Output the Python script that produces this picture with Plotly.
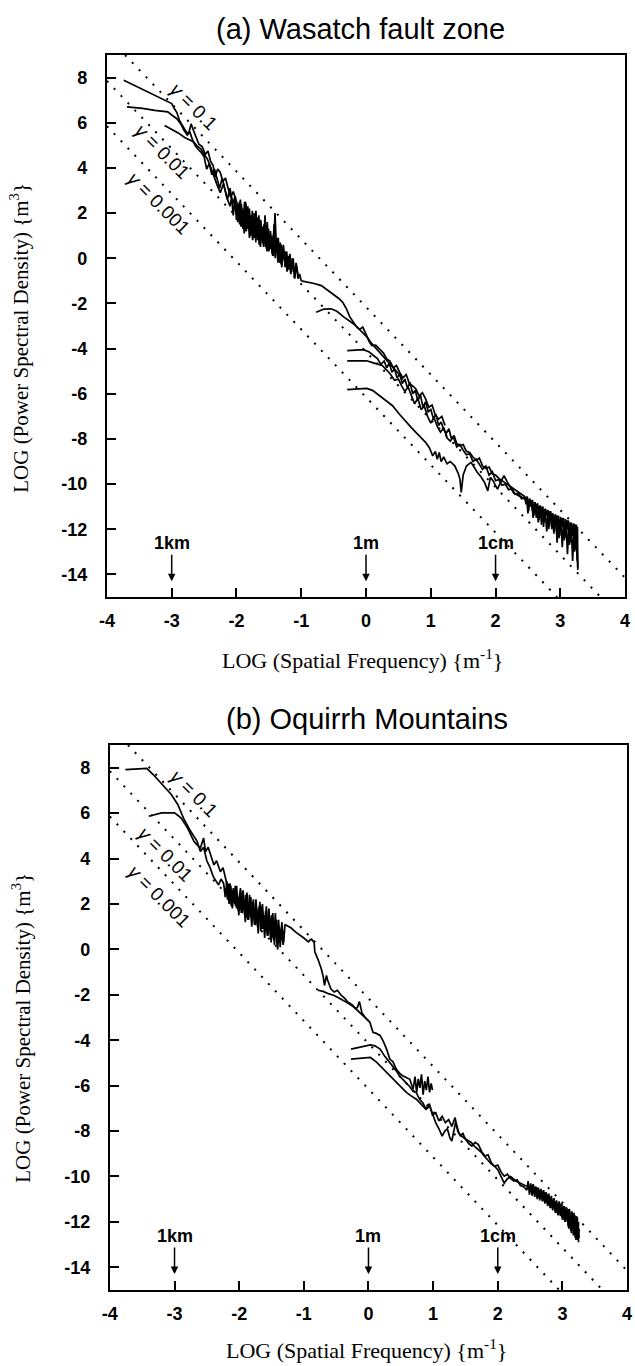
import plotly.graph_objects as go

# ---------------- data ----------------
X_RANGE = [-4, 4]
Y_RANGE = [-15, 9]
X_TICKS = [-4, -3, -2, -1, 0, 1, 2, 3, 4]
X_TICKTEXT = ["-4", "-3", "-2", "-1", "0", "1", "2", "3", "4"]
Y_TICKS = [8, 6, 4, 2, 0, -2, -4, -6, -8, -10, -12, -14]
Y_TICKTEXT = ["8", "6", "4", "2", "0", "-2", "-4", "-6", "-8", "-10", "-12", "-14"]

# reference lines  gamma = 0.1 / 0.01 / 0.001 (endpoints)
g1_x = [-3.72, 4.0];  g1_y = [9.0, -14.15]
g2_x = [-4.0, 3.62];  g2_y = [7.85, -15.0]
g3_x = [-4.0, 2.95];  g3_y = [5.85, -15.0]
gamma_labels = ["<i>γ</i> = 0.1", "<i>γ</i> = 0.01", "<i>γ</i> = 0.001"]
a_label_x = [-2.66, -3.15, -3.20]; a_label_y = [6.72, 4.72, 2.41]
b_label_x = [-2.70, -3.14, -3.23]; b_label_y = [6.85, 4.17, 2.34]

scale_names = ["1km", "1m", "1cm"]
scale_x = [-3, 0, 2]

# ---- panel (a) Wasatch fault zone ----
a1_x = [-3.74, -3.55, -3.35, -3.15, -3.06, -3.0, -2.96, -2.92, -2.88, -2.84, -2.78, -2.74, -2.70, -2.67, -2.62,
        -2.58, -2.53, -2.48, -2.44, -2.40, -2.36, -2.33, -2.29, -2.25, -2.21, -2.17, -2.13, -2.09, -2.05, -2.01,
        -1.975, -1.95, -1.925, -1.90, -1.875, -1.85, -1.825, -1.80, -1.775, -1.75, -1.725, -1.70, -1.675, -1.65,
        -1.625, -1.60, -1.575, -1.55, -1.525, -1.50, -1.475, -1.45, -1.425, -1.40, -1.375, -1.35, -1.325, -1.30,
        -1.275, -1.25, -1.225, -1.20, -1.175, -1.15, -1.125, -1.10, -1.075, -1.05, -1.025, -1.00]
a1_y = [7.88, 7.62, 7.32, 7.04, 6.92, 6.85, 6.63, 6.45, 6.10, 5.90, 5.62, 5.50, 5.95, 5.70, 5.30,
        5.05, 4.95, 4.60, 4.75, 4.30, 4.10, 3.60, 3.95, 3.80, 3.40, 3.55, 3.10, 2.70, 2.95, 2.55,
        2.3, 1.6, 2.4, 1.5, 2.2, 1.2, 2.3, 1.3, 1.9, 0.9, 2.0, 1.0, 1.8, 0.6,
        1.7, 0.7, 1.5, 0.5, 1.6, 0.4, 1.2, 0.2, 1.1, 0.0, 0.9, -0.1, 0.7, -0.3,
        0.6, -0.4, 0.3, -0.5, 0.2, -0.6, 0.0, -0.8, -0.3, -0.9, -0.7, -1.0]
a2_x = [-3.69, -3.45, -3.26, -3.06, -2.98, -2.92, -2.86, -2.81, -2.76, -2.72, -2.68, -2.64, -2.60, -2.55, -2.50,
        -2.46, -2.42, -2.38, -2.34, -2.30, -2.26, -2.22, -2.18, -2.14, -2.10, -2.06, -2.02,
        -1.98, -1.955, -1.93, -1.905, -1.88, -1.855, -1.83, -1.805, -1.78, -1.755, -1.73, -1.705, -1.68, -1.655,
        -1.63, -1.605, -1.58, -1.555, -1.53, -1.505, -1.48, -1.455, -1.43, -1.405, -1.38, -1.355, -1.33, -1.305]
a2_y = [6.70, 6.64, 6.55, 6.48, 6.30, 6.18, 5.95, 5.66, 5.45, 5.60, 5.25, 5.00, 4.85, 4.70, 4.50,
        3.95, 4.20, 3.70, 3.95, 3.50, 3.10, 3.55, 3.00, 2.60, 3.10, 2.40, 2.75,
        1.6, 2.5, 1.4, 2.2, 1.1, 2.4, 1.3, 1.9, 1.0, 2.1, 0.9, 1.7, 0.8, 1.9,
        0.5, 1.4, 0.6, 1.5, 0.3, 1.3, 0.4, 1.0, 0.1, 2.0, 0.2, 0.9, -0.2, 0.6]
a3_x = [-3.11, -3.0, -2.9, -2.8, -2.72, -2.66, -2.6, -2.55, -2.5, -2.45, -2.4, -2.35, -2.3, -2.25, -2.2, -2.15,
        -2.1, -2.075, -2.05, -2.025, -2.0, -1.975, -1.95, -1.925, -1.9, -1.875, -1.85, -1.825, -1.8, -1.775,
        -1.75, -1.725, -1.7]
a3_y = [5.88, 5.72, 5.55, 5.35, 5.25, 5.15, 4.95, 4.85, 4.60, 4.40, 4.05, 3.60, 3.25, 2.90, 3.30, 2.70,
        2.30, 2.7, 1.9, 2.6, 1.7, 2.4, 1.5, 2.0, 1.3, 2.5, 1.2, 2.1, 0.9, 1.8,
        0.8, 1.6, 0.7]
a4_x = [-0.77, -0.65, -0.54, -0.45, -0.34, -0.25, -0.19, -0.12, -0.05, 0.02, 0.08, 0.14, 0.2,
        0.26, 0.32, 0.38, 0.44, 0.5, 0.56]
a4_y = [-2.39, -2.25, -2.24, -2.35, -2.61, -2.80, -2.91, -3.10, -3.30, -3.50, -3.75, -3.95, -4.1,
        -4.30, -4.50, -4.70, -4.95, -5.10, -5.40]
a5_x = [-1.0, -0.9, -0.8, -0.69, -0.6, -0.5, -0.42, -0.36, -0.3, -0.25, -0.2, -0.16, -0.1, -0.05, 0.01,
        0.05, 0.09, 0.15, 0.21, 0.27, 0.32, 0.37, 0.42, 0.47, 0.52, 0.57, 0.62, 0.67, 0.72, 0.77, 0.82,
        0.87, 0.92, 0.97, 1.02, 1.07, 1.12, 1.17, 1.22]
a5_y = [-1.0, -1.05, -1.12, -1.21, -1.40, -1.60, -1.78, -1.95, -2.25, -2.60, -2.80, -2.98, -3.15, -3.05, -3.43,
        -3.70, -3.87, -3.85, -4.02, -4.20, -4.46, -4.55, -4.85, -4.75, -5.05, -5.30, -5.15, -5.55, -5.65, -5.79,
        -6.10, -5.95, -6.23, -6.60, -6.50, -6.95, -7.12, -7.00, -7.40]
a6_x = [-0.29, -0.15, -0.04, 0.05, 0.12, 0.18, 0.23, 0.28, 0.32, 0.36, 0.40, 0.44, 0.48, 0.52, 0.56, 0.60,
        0.64, 0.68, 0.72, 0.76, 0.80, 0.84, 0.88, 0.92, 0.96, 1.00, 1.04, 1.08, 1.12, 1.16, 1.20, 1.24, 1.28,
        1.32, 1.36, 1.40, 1.45, 1.50, 1.55, 1.60, 1.65, 1.70, 1.75, 1.80, 1.85, 1.90, 1.95, 2.00, 2.05, 2.10,
        2.15, 2.20, 2.25, 2.30, 2.35, 2.40, 2.45,
        2.47, 2.49, 2.51, 2.53, 2.55, 2.57, 2.59, 2.61, 2.63, 2.65, 2.67, 2.69, 2.71, 2.73, 2.75, 2.77, 2.79,
        2.81, 2.83, 2.85, 2.87, 2.89, 2.91, 2.93, 2.95, 2.97, 2.99, 3.01, 3.03, 3.05, 3.07, 3.09, 3.11, 3.13,
        3.15, 3.17, 3.19, 3.21, 3.23, 3.25, 3.26, 3.265, 3.27, 3.265, 3.27]
a6_y = [-4.09, -4.07, -4.05, -4.15, -4.30, -4.45, -4.70, -4.55, -4.85, -4.65, -5.05, -4.90, -5.30, -5.10, -5.55,
        -5.35, -5.75, -5.50, -6.00, -5.85, -6.30, -6.05, -6.60, -6.35, -6.80, -6.70, -7.10, -6.90, -7.40, -7.25,
        -7.60, -7.75, -7.55, -8.00, -7.85, -8.20, -8.30, -8.25, -8.55, -8.60, -8.80, -8.95, -8.85, -9.20, -9.30,
        -9.25, -9.55, -9.60, -9.75, -9.85, -9.95, -10.05, -10.15, -10.25, -10.35, -10.45, -10.55,
        -10.9, -10.55, -11.2, -10.65, -10.9, -10.7, -11.4, -10.8, -11.1, -10.85, -11.6, -10.95, -11.3, -11.0,
        -11.7, -11.1, -11.4, -11.15, -11.9, -11.2, -11.6, -11.3, -12.1, -11.35, -11.8, -11.4, -12.3, -11.5,
        -11.9, -11.5, -12.4, -11.6, -12.0, -11.65, -12.6, -11.7, -12.3, -11.75, -12.8, -11.8, -13.2, -11.9,
        -13.7, -12.2, -13.3]
a7_x = [-0.29, -0.1, 0.01, 0.1, 0.18, 0.25, 0.32, 0.38, 0.44, 0.50, 0.55, 0.60, 0.65, 0.70, 0.75, 0.80, 0.85,
        0.90, 0.95, 1.00, 1.05, 1.10, 1.15, 1.20, 1.25, 1.30, 1.35, 1.40, 1.45, 1.50, 1.55, 1.60, 1.65, 1.70,
        1.75, 1.80, 1.85, 1.90, 1.95, 2.00, 2.05, 2.10, 2.15, 2.20, 2.25, 2.30, 2.35, 2.40, 2.45,
        2.48, 2.50, 2.52, 2.54, 2.56, 2.58, 2.60, 2.62, 2.64, 2.66, 2.68, 2.70, 2.72, 2.74, 2.76, 2.78, 2.80,
        2.82, 2.84, 2.86, 2.88, 2.90, 2.92, 2.94, 2.96, 2.98, 3.00, 3.02, 3.04, 3.06, 3.08, 3.10, 3.12, 3.14,
        3.16, 3.18, 3.20, 3.22, 3.24, 3.26]
a7_y = [-4.54, -4.52, -4.54, -4.62, -4.70, -4.75, -4.95, -5.15, -5.40, -5.35, -5.65, -5.90, -5.70, -6.09,
        -6.45, -6.20, -6.70, -6.55, -7.00, -7.30, -7.05, -7.45, -7.70, -7.50, -7.95, -8.10, -7.90, -8.35, -8.25,
        -8.50, -8.70, -8.65, -9.00, -8.90, -9.15, -9.35, -9.20, -9.60, -9.45, -9.85, -9.80, -10.05, -10.00,
        -10.25, -10.20, -10.45, -10.40, -10.65, -10.60,
        -10.6, -11.3, -10.65, -11.0, -10.75, -11.5, -10.8, -11.1, -10.9, -11.7, -10.95, -11.3, -11.0, -11.9,
        -11.1, -11.4, -11.15, -12.0, -11.2, -11.5, -11.3, -12.2, -11.35, -11.7, -11.4, -12.4, -11.45, -11.8,
        -11.5, -12.5, -11.55, -12.0, -11.6, -12.7, -11.7, -12.3, -11.75, -13.0, -11.8, -13.4]
a8_x = [-0.29, -0.1, 0.01, 0.1, 0.21, 0.3, 0.41, 0.5, 0.62, 0.7, 0.77, 0.85, 0.92, 0.98, 1.03, 1.07, 1.10,
        1.13, 1.16, 1.20, 1.25, 1.30, 1.37, 1.42, 1.45, 1.47, 1.50, 1.55, 1.62, 1.68, 1.72, 1.78, 1.83, 1.88,
        1.92, 1.96, 2.03, 2.08, 2.13, 2.18, 2.22, 2.28, 2.35, 2.42, 2.5, 2.56, 2.62, 2.68, 2.74, 2.8, 2.86,
        2.92, 2.98, 3.04, 3.1, 3.16, 3.22, 3.26]
a8_y = [-5.82, -5.78, -5.76, -5.85, -6.09, -6.30, -6.53, -6.85, -7.27, -7.50, -7.71, -7.95, -8.15, -8.40,
        -8.75, -8.55, -8.90, -8.60, -9.00, -8.80, -9.10, -9.00, -9.19, -9.50, -9.78, -10.37, -9.60, -9.20,
        -9.04, -9.30, -9.49, -9.70, -9.93, -10.30, -9.70, -9.85, -10.22, -9.90, -9.63, -9.90, -10.10, -10.40,
        -10.50, -10.60, -10.8, -10.95, -11.0, -11.15, -11.2, -11.35, -11.4, -11.55, -11.6, -11.7, -11.75,
        -11.9, -12.0, -12.6]
a9_x = [-1.96, -1.94, -1.92, -1.90, -1.88, -1.86, -1.84, -1.82, -1.80, -1.78, -1.76, -1.74, -1.72, -1.70,
        -1.68, -1.66, -1.64, -1.62, -1.60, -1.58, -1.56, -1.54, -1.52, -1.50, -1.48, -1.46, -1.44, -1.42,
        -1.40, -1.38, -1.36, -1.34, -1.32, -1.30, -1.28, -1.26, -1.24, -1.22, -1.20, -1.18, -1.16, -1.14,
        -1.12, -1.10, -1.08, -1.06, -1.04]
a9_y = [1.9, 2.6, 1.8, 2.1, 1.4, 2.5, 1.7, 1.3, 2.2, 1.1, 1.8, 1.5, 0.9, 2.1, 1.2, 1.6, 0.8, 1.4, 1.0, 0.5,
        1.9, 0.7, 1.2, 0.3, 1.0, 0.6, 0.1, 1.5, 0.4, 0.8, -0.2, 0.6, 0.2, -0.4, 0.5, -0.1, 0.3, -0.6, 0.1,
        -0.3, -0.7, 0.0, -0.5, -0.9, -0.2, -0.6, -0.9]
a10_x = [2.55, 2.57, 2.59, 2.61, 2.63, 2.65, 2.67, 2.69, 2.71, 2.73, 2.75, 2.77, 2.79, 2.81, 2.83, 2.85, 2.87,
         2.89, 2.91, 2.93, 2.95, 2.97, 2.99, 3.01, 3.03, 3.05, 3.07, 3.09, 3.11, 3.13, 3.15, 3.17, 3.19, 3.21,
         3.23, 3.25, 3.27]
a10_y = [-10.8, -11.2, -10.9, -11.0, -11.5, -11.0, -11.3, -11.1, -11.8, -11.2, -11.5, -11.3, -12.1, -11.3,
         -11.6, -11.4, -12.0, -11.5, -11.9, -11.5, -12.6, -11.6, -12.0, -11.7, -12.8, -11.8, -12.2, -11.8,
         -13.1, -11.9, -12.5, -12.0, -13.4, -12.1, -12.9, -12.4, -13.8]

# ---- panel (b) Oquirrh Mountains ----
b1_x = [-3.76, -3.43, -3.33, -3.15, -3.05, -2.95, -2.90, -2.85, -2.75, -2.70, -2.65, -2.60, -2.55, -2.50,
        -2.45, -2.40, -2.35, -2.32, -2.28, -2.24,
        -2.215, -2.19, -2.165, -2.14, -2.115, -2.09, -2.065, -2.04, -2.015, -1.99, -1.965, -1.94, -1.915,
        -1.89, -1.865, -1.84, -1.815, -1.79, -1.765, -1.74, -1.715, -1.69, -1.665, -1.64, -1.615, -1.59,
        -1.565, -1.54, -1.515, -1.49, -1.465, -1.44, -1.415, -1.39, -1.365, -1.34, -1.315, -1.29, -1.28]
b1_y = [7.92, 7.97, 7.70, 7.12, 6.82, 6.38, 6.08, 5.71, 5.20, 5.00, 4.76, 4.31, 4.50, 3.90,
        3.60, 3.20, 3.00, 2.84, 3.10, 2.90,
        2.3, 3.0, 2.2, 2.9, 1.9, 2.7, 2.0, 2.8, 1.7, 2.5, 1.6, 2.6, 1.5,
        2.3, 1.3, 2.4, 1.4, 2.1, 1.1, 2.2, 1.0, 1.9, 0.8, 2.0, 0.9, 1.7,
        0.6, 1.8, 0.5, 1.5, 0.4, 1.6, 0.2, 1.3, 0.1, 1.2, 0.3, 1.1, 1.07]
b2_x = [-3.40, -3.2, -3.0, -2.9, -2.8, -2.7, -2.65, -2.6, -2.55, -2.52, -2.48, -2.44, -2.39, -2.35, -2.29,
        -2.25, -2.2, -2.18, -2.155, -2.13, -2.105, -2.08, -2.055, -2.03, -2.005, -1.98, -1.955, -1.93, -1.905,
        -1.88, -1.855, -1.83, -1.805, -1.78, -1.755, -1.73, -1.705, -1.68, -1.655, -1.63, -1.605, -1.58,
        -1.555, -1.53, -1.505, -1.48, -1.455, -1.43, -1.405, -1.38, -1.355, -1.33]
b2_y = [5.86, 6.01, 6.01, 5.79, 5.35, 4.76, 4.60, 4.46, 4.90, 4.30, 4.50, 4.16, 3.72, 3.90, 3.42,
        3.60, 3.00, 2.5, 2.0, 2.8, 1.8, 2.6, 1.9, 2.4, 1.5, 2.7, 1.6, 2.2, 1.2,
        2.5, 1.3, 2.0, 1.0, 2.2, 1.1, 1.8, 0.7, 2.1, 0.9, 1.6, 0.5, 1.9,
        0.6, 1.4, 0.3, 1.6, 0.2, 1.2, 0.0, 1.0, 0.4, 0.6]
b3_x = [-1.28, -1.2, -1.13, -1.05, -1.0, -0.95, -0.93, -0.9, -0.88, -0.84, -0.83, -0.78, -0.73, -0.70,
        -0.68, -0.65, -0.63, -0.58, -0.53, -0.48, -0.42, -0.37, -0.32, -0.25, -0.2, -0.17, -0.14, -0.1,
        -0.05, 0.02, 0.07, 0.12, 0.18, 0.23, 0.28, 0.33, 0.38, 0.43, 0.48, 0.53, 0.58, 0.64, 0.69,
        0.72, 0.745, 0.77, 0.795, 0.82, 0.845, 0.87, 0.895, 0.92, 0.945, 0.97, 0.99]
b3_y = [1.07, 0.95, 0.77, 0.62, 0.50, 0.38, 0.33, 0.42, 0.45, 0.30, -0.11, -0.45, -0.85, -1.20,
        -1.59, -1.15, -1.37, -1.75, -1.88, -1.80, -2.03, -2.15, -2.32, -2.45, -2.62, -2.55, -2.30, -2.80,
        -3.0, -3.2, -3.65, -3.70, -3.79, -4.05, -4.39, -4.83, -4.95, -5.27, -5.45, -5.57, -5.65, -5.72, -6.16,
        -5.6, -6.3, -5.7, -6.1, -5.5, -6.4, -5.8, -6.2, -5.6, -6.3, -5.9, -6.2]
b4_x = [-0.78, -0.70, -0.62, -0.53, -0.45, -0.38, -0.3, -0.22, -0.15, -0.08, 0.0]
b4_y = [-1.80, -1.85, -1.95, -2.03, -2.15, -2.25, -2.40, -2.55, -2.75, -2.95, -3.15]
b5_x = [-0.27, -0.1, 0.03, 0.10, 0.18, 0.25, 0.32, 0.38, 0.43, 0.48, 0.53, 0.59, 0.64, 0.69, 0.74, 0.79,
        0.84, 0.89, 0.94, 0.99, 1.04, 1.09, 1.14, 1.19, 1.24, 1.29, 1.34, 1.38, 1.42, 1.46, 1.50, 1.55, 1.60,
        1.65, 1.70, 1.75, 1.80, 1.85, 1.90, 1.95, 2.00, 2.05, 2.10, 2.15, 2.20, 2.25, 2.30, 2.35, 2.40, 2.45,
        2.47, 2.49, 2.51, 2.53, 2.55, 2.57, 2.59, 2.61, 2.63, 2.65, 2.67, 2.69, 2.71, 2.73, 2.75, 2.77, 2.79,
        2.81, 2.83, 2.85, 2.87, 2.89, 2.91, 2.93, 2.95, 2.97, 2.99, 3.01, 3.03, 3.05, 3.07, 3.09, 3.11, 3.13,
        3.15, 3.17, 3.19, 3.21, 3.23, 3.25, 3.24, 3.26, 3.25]
b5_y = [-4.39, -4.30, -4.21, -4.25, -4.39, -4.70, -4.95, -5.13, -5.35, -5.57, -5.70, -5.90, -6.05, -6.25,
        -6.31, -6.60, -6.75, -7.04, -6.80, -7.30, -7.20, -7.55, -7.35, -7.63, -7.50, -7.80, -7.41, -8.00,
        -8.20, -8.10, -8.35, -8.55, -8.66, -8.50, -8.60, -8.90, -9.10, -9.05, -9.40, -9.55, -9.50, -9.80,
        -9.99, -9.90, -10.10, -10.20, -10.15, -10.40, -10.45, -10.60,
        -10.2, -10.8, -10.3, -10.85, -10.35, -10.9, -10.45, -11.0, -10.5, -11.05, -10.55, -11.1, -10.6, -11.2,
        -10.7, -11.3, -10.75, -11.4, -10.85, -11.5, -10.95, -11.6, -11.05, -11.7, -11.1, -11.75, -11.2, -11.9,
        -11.3, -12.0, -11.4, -12.2, -11.5, -12.4, -11.55, -12.6, -11.7, -12.8, -11.8, -12.9, -12.2, -12.7, -12.4]
b6_x = [-0.27, -0.1, 0.03, 0.12, 0.23, 0.33, 0.43, 0.51, 0.59, 0.66, 0.74, 0.81, 0.89, 0.95, 1.0, 1.04,
        1.09, 1.14, 1.18, 1.22, 1.26, 1.29, 1.32, 1.35, 1.40, 1.44, 1.50, 1.55, 1.59, 1.65, 1.70, 1.75, 1.79,
        1.85, 1.90, 1.95, 2.00, 2.05, 2.10, 2.15, 2.20, 2.28, 2.35, 2.42, 2.50,
        2.52, 2.54, 2.56, 2.58, 2.60, 2.62, 2.64, 2.66, 2.68, 2.70, 2.72, 2.74, 2.76, 2.78, 2.80, 2.82, 2.84,
        2.86, 2.88, 2.90, 2.92, 2.94, 2.96, 2.98, 3.00, 3.02, 3.04, 3.06, 3.08, 3.10, 3.12, 3.14, 3.16, 3.18,
        3.20, 3.22, 3.24, 3.25]
b6_y = [-4.83, -4.80, -4.76, -4.95, -5.27, -5.55, -5.87, -6.10, -6.31, -6.45, -6.60, -6.80, -7.04, -6.90,
        -7.35, -7.63, -7.90, -8.22, -8.00, -7.90, -8.30, -8.44, -8.00, -7.60, -8.10, -8.22, -8.35, -8.45,
        -8.50, -8.70, -8.81, -8.95, -9.10, -9.30, -9.45, -9.55, -9.70, -10.00, -10.29, -10.10, -10.00, -10.20,
        -10.30, -10.40, -10.44,
        -10.6, -10.35, -10.75, -10.45, -10.9, -10.5, -10.95, -10.6, -11.0, -10.65, -11.1, -10.7, -11.15, -10.8,
        -11.25, -10.9, -11.35, -11.0, -11.45, -11.1, -11.55, -11.15, -11.6, -11.2, -11.7, -11.3, -11.8, -11.35,
        -11.95, -11.45, -12.1, -11.55, -12.3, -11.6, -12.5, -11.75, -12.7, -12.0]
b7_x = [-2.20, -2.18, -2.16, -2.14, -2.12, -2.10, -2.08, -2.06, -2.04, -2.02, -2.00, -1.98, -1.96, -1.94,
        -1.92, -1.90, -1.88, -1.86, -1.84, -1.82, -1.80, -1.78, -1.76, -1.74, -1.72, -1.70, -1.68, -1.66,
        -1.64, -1.62, -1.60, -1.58, -1.56, -1.54, -1.52, -1.50, -1.48, -1.46, -1.44, -1.42, -1.40, -1.38,
        -1.36, -1.34, -1.32, -1.30]
b7_y = [2.7, 2.2, 2.9, 2.4, 1.9, 2.6, 2.1, 2.8, 1.8, 2.3, 2.0, 2.6, 1.6, 2.2, 1.9, 2.4, 1.4, 2.0, 1.7, 2.3,
        1.3, 1.8, 1.5, 2.1, 1.1, 1.7, 1.3, 1.9, 0.9, 1.5, 1.2, 1.7, 0.7, 1.3, 1.0, 1.5, 0.5, 1.1, 0.8, 1.3,
        0.3, 0.9, 0.6, 1.0, 0.2, 0.8]
b8_x = [2.60, 2.62, 2.64, 2.66, 2.68, 2.70, 2.72, 2.74, 2.76, 2.78, 2.80, 2.82, 2.84, 2.86, 2.88, 2.90, 2.92,
        2.94, 2.96, 2.98, 3.00, 3.02, 3.04, 3.06, 3.08, 3.10, 3.12, 3.14, 3.16, 3.18, 3.20, 3.22, 3.24, 3.26]
b8_y = [-10.7, -10.5, -10.9, -10.6, -10.8, -11.0, -10.7, -11.1, -10.8, -11.0, -11.3, -10.95, -11.4, -11.1,
        -11.3, -11.6, -11.2, -11.7, -11.35, -11.5, -11.9, -11.45, -12.0, -11.6, -11.8, -12.3, -11.7, -12.5,
        -11.8, -12.2, -12.7, -11.9, -12.8, -12.3]

panel_a = [(a1_x, a1_y), (a2_x, a2_y), (a3_x, a3_y), (a4_x, a4_y), (a5_x, a5_y),
           (a6_x, a6_y), (a7_x, a7_y), (a8_x, a8_y), (a9_x, a9_y), (a10_x, a10_y)]
panel_b = [(b1_x, b1_y), (b2_x, b2_y), (b3_x, b3_y), (b4_x, b4_y), (b5_x, b5_y), (b6_x, b6_y),
           (b7_x, b7_y), (b8_x, b8_y)]
gamma_lines = [(g1_x, g1_y), (g2_x, g2_y), (g3_x, g3_y)]

# ---------------- figure ----------------
W, H = 635, 1366
fig = go.Figure()

LW = 1.7
for (xs, ys) in panel_a:
    fig.add_trace(go.Scatter(x=xs, y=ys, mode="lines", line=dict(color="black", width=LW),
                             xaxis="x", yaxis="y", showlegend=False, hoverinfo="skip"))
for (xs, ys) in panel_b:
    fig.add_trace(go.Scatter(x=xs, y=ys, mode="lines", line=dict(color="black", width=LW),
                             xaxis="x2", yaxis="y2", showlegend=False, hoverinfo="skip"))
for ax in [("x", "y"), ("x2", "y2")]:
    for (xs, ys) in gamma_lines:
        fig.add_trace(go.Scatter(x=xs, y=ys, mode="lines",
                                 line=dict(color="black", width=2, dash="2px,8px"),
                                 xaxis=ax[0], yaxis=ax[1], showlegend=False, hoverinfo="skip"))

tickfont = dict(family="Liberation Sans", size=18, color="black", weight="bold")
axis_common = dict(showline=True, linecolor="black", linewidth=2, mirror=True,
                   ticks="inside", ticklen=9, tickwidth=2, tickcolor="black",
                   showgrid=False, zeroline=False, tickfont=tickfont, ticklabeloverflow="allow")

# pixel boxes of the two plot areas
A_BOX = (101, 630, 55, 597)   # left, right, top, bottom
B_BOX = (104, 632, 745, 1290)

def xdom(b):
    return [b[0] / W, b[1] / W]

def ydom(b):
    return [1 - b[3] / H, 1 - b[2] / H]

xa = dict(axis_common, range=X_RANGE, tickvals=X_TICKS, ticktext=X_TICKTEXT, ticklabelstandoff=6)
ya = dict(axis_common, range=Y_RANGE, tickvals=Y_TICKS, ticktext=Y_TICKTEXT, ticklabelstandoff=14)

fig.update_layout(
    width=W, height=H, margin=dict(l=0, r=0, t=0, b=0),
    paper_bgcolor="white", plot_bgcolor="white",
    xaxis=dict(xa, domain=xdom(A_BOX), anchor="y"),
    yaxis=dict(ya, domain=ydom(A_BOX), anchor="x"),
    xaxis2=dict(xa, domain=xdom(B_BOX), anchor="y2"),
    yaxis2=dict(ya, domain=ydom(B_BOX), anchor="x2"),
)

ann = []
def paper(px, py):
    return px / W, 1 - py / H

titles = [("(a) Wasatch fault zone", 360, 29), ("(b) Oquirrh Mountains", 366, 719)]
for t, px, py in titles:
    x, y = paper(px, py)
    ann.append(dict(text=t, x=x, y=y, xref="paper", yref="paper", showarrow=False,
                    font=dict(family="Liberation Sans", size=29, color="black"),
                    xanchor="center", yanchor="middle"))

xtitle = "LOG (Spatial Frequency) {m<sup>-1</sup>}"
ytitle = "LOG (Power Spectral Density) {m<sup>3</sup>}"
for (px, py) in [(362, 659), (366, 1349)]:
    x, y = paper(px, py)
    ann.append(dict(text=xtitle, x=x, y=y, xref="paper", yref="paper", showarrow=False,
                    font=dict(family="Liberation Serif", size=22, color="black"),
                    xanchor="center", yanchor="middle"))
for (px, py) in [(11, 338), (13, 1028)]:
    x, y = paper(px, py)
    ann.append(dict(text=ytitle, x=x, y=y, xref="paper", yref="paper", showarrow=False, textangle=-90,
                    font=dict(family="Liberation Serif", size=21, color="black"),
                    xanchor="center", yanchor="middle"))

for xr, yr, lx, ly in [("x", "y", a_label_x, a_label_y), ("x2", "y2", b_label_x, b_label_y)]:
    for t, x, y in zip(gamma_labels, lx, ly):
        ann.append(dict(text=t, x=x, y=y, xref=xr, yref=yr, showarrow=False, textangle=45,
                        font=dict(family="Liberation Sans", size=19, color="black"),
                        xanchor="center", yanchor="middle"))
    for name, sx in zip(scale_names, scale_x):
        ann.append(dict(text=name, x=sx, y=-14.3, xref=xr, yref=yr, showarrow=True,
                        ax=0, ay=-38, arrowhead=2, arrowsize=1, arrowwidth=1.5, arrowcolor="black",
                        font=dict(family="Liberation Sans", size=18, color="black", weight="bold")))

fig.update_layout(annotations=ann)
fig.write_html("out.html")
